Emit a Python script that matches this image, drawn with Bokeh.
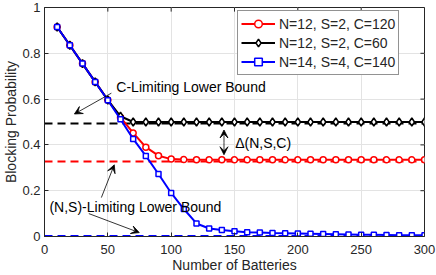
from bokeh.plotting import figure
from bokeh.models import (Legend, LegendItem, FixedTicker, Arrow, VeeHead,
                          Label, Range1d)
from bokeh.embed import file_html
from bokeh.resources import INLINE

# ---- data ----
batteries = [10, 20, 30, 40, 50, 60, 70, 80, 90, 100, 110, 120, 130, 140, 150,
             160, 170, 180, 190, 200, 210, 220, 230, 240, 250, 260, 270, 280, 290, 300]
red_vals = [0.915, 0.835, 0.755, 0.675, 0.596, 0.52, 0.452, 0.39, 0.353, 0.338,
            0.336, 0.335, 0.335, 0.335, 0.335, 0.335, 0.335, 0.335, 0.335, 0.335,
            0.335, 0.335, 0.335, 0.335, 0.335, 0.335, 0.335, 0.335, 0.335, 0.335]
black_vals = [0.915, 0.835, 0.755, 0.675, 0.596, 0.525, 0.5, 0.5, 0.5, 0.5,
              0.5, 0.5, 0.5, 0.5, 0.5, 0.5, 0.5, 0.5, 0.5, 0.5,
              0.5, 0.5, 0.5, 0.5, 0.5, 0.5, 0.5, 0.5, 0.5, 0.5]
blue_vals = [0.915, 0.835, 0.755, 0.675, 0.595, 0.512, 0.426, 0.352, 0.273, 0.19,
             0.12, 0.057, 0.035, 0.028, 0.023, 0.019, 0.017, 0.015, 0.014, 0.013,
             0.012, 0.011, 0.010, 0.009, 0.008, 0.008, 0.007, 0.006, 0.006, 0.005]
series_labels = ["N=12, S=2, C=120", "N=12, S=2, C=60", "N=14, S=4, C=140"]
bound_x = [0, 300]
black_bound = 0.493
red_bound = 0.328
blue_bound = 0.002
x_ticks = [0, 50, 100, 150, 200, 250, 300]
y_ticks = [0, 0.2, 0.4, 0.6, 0.8, 1.0]
y_tick_labels = {0: "0", 0.2: "0.2", 0.4: "0.4", 0.6: "0.6", 0.8: "0.8", 1.0: "1"}

FONT = "Liberation Sans"
AX = "#262626"

p = figure(width=436, height=275, output_backend="svg", toolbar_location=None,
           x_range=Range1d(0, 300), y_range=Range1d(0, 1),
           min_border_left=43, min_border_right=12, min_border_top=7, min_border_bottom=38)
p.outline_line_color = AX
p.outline_line_width = 1

for ax in (p.xaxis[0], p.yaxis[0]):
    ax.major_tick_in = 4
    ax.major_tick_out = 0
    ax.minor_tick_line_color = None
    ax.axis_line_color = AX
    ax.major_tick_line_color = AX
    ax.major_label_text_font = FONT
    ax.major_label_text_font_size = "13px"
    ax.major_label_text_color = AX
    ax.axis_label_text_font = FONT
    ax.axis_label_text_font_size = "14px"
    ax.axis_label_text_font_style = "normal"
    ax.axis_label_text_color = AX

p.xaxis.ticker = FixedTicker(ticks=x_ticks)
p.yaxis.ticker = FixedTicker(ticks=y_ticks)
p.yaxis.major_label_overrides = y_tick_labels
p.xaxis.axis_label = "Number of Batteries"
p.yaxis.axis_label = "Blocking Probability"
p.xaxis.major_label_standoff = 8
p.xaxis.axis_label_standoff = 0
p.yaxis.major_label_standoff = 4
p.yaxis.axis_label_standoff = 0

p.xgrid.ticker = FixedTicker(ticks=x_ticks)
p.ygrid.ticker = FixedTicker(ticks=y_ticks)
p.grid.grid_line_color = "#e3e3e3"
p.grid.grid_line_width = 1

# box ticks on the right and top edges (inward)
p.segment(x0=[300] * len(y_ticks), y0=y_ticks, x1=[296.8] * len(y_ticks), y1=y_ticks,
          line_color=AX, line_width=1)
p.segment(x0=x_ticks, y0=[1] * len(x_ticks), x1=x_ticks, y1=[0.982] * len(x_ticks),
          line_color=AX, line_width=1)

# lower bounds (dashed)
p.line(bound_x, [black_bound, black_bound], line_color="black", line_width=2, line_dash="8 5")
p.line(bound_x, [red_bound, red_bound], line_color="red", line_width=2, line_dash="8 5")
p.line(bound_x, [blue_bound, blue_bound], line_color="blue", line_width=2, line_dash="8 5")

items = []
specs = [(red_vals, "red", "circle", 6), (black_vals, "black", "diamond", 8),
         (blue_vals, "blue", "square", 5)]
for (vals, col, mk, sz), lab in zip(specs, series_labels):
    l = p.line(batteries, vals, line_color=col, line_width=2)
    s = p.scatter(batteries, vals, marker=mk, size=sz, line_color=col, line_width=1.5,
                  fill_color="white")
    items.append(LegendItem(label=lab, renderers=[l, s]))

legend = Legend(items=items, location=(193, 161), label_text_font=FONT,
                label_text_font_size="14px", label_height=19, glyph_height=19,
                glyph_width=34, spacing=0, padding=3, margin=0, label_standoff=4,
                border_line_color=AX, border_line_width=1, background_fill_color="white",
                background_fill_alpha=1.0, label_text_color=AX)
p.add_layout(legend)

# annotations
def arrow(x0, y0, x1, y1):
    a = Arrow(x_start=x0, y_start=y0, x_end=x1, y_end=y1, line_width=0.8, line_color="black",
              end=VeeHead(size=8, line_color="black", fill_color="black", line_width=0.8))
    p.add_layout(a)

arrow(52.8, 0.626, 23.6, 0.535)
arrow(44.9, 0.17, 55.1, 0.313)
arrow(35.0, 0.10, 74.8, 0.017)
arrow(141.7, 0.41, 141.7, 0.465)
arrow(141.7, 0.41, 141.7, 0.357)

for tx, ty, t in [(56.7, 0.652, "C-Limiting Lower Bound"),
                  (3.9, 0.13, "(N,S)-Limiting Lower Bound"),
                  (150.5, 0.41, "\u0394(N,S,C)")]:
    p.add_layout(Label(x=tx, y=ty, text=t, text_font=FONT, text_font_size="14px",
                       text_baseline="middle", text_color="black",
                       background_fill_color=None))

open("out.html", "w").write(file_html(p, INLINE))
